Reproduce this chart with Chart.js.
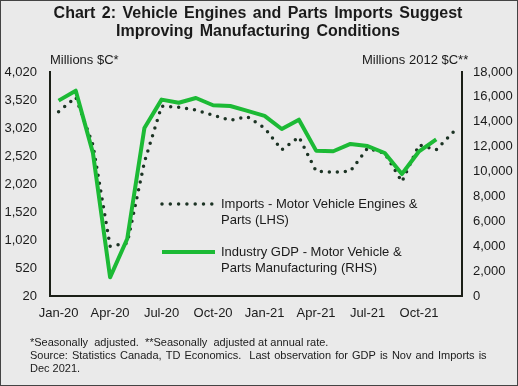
<!DOCTYPE html>
<html lang="en">
<head>
<meta charset="UTF-8">
<title>Vehicle Engines and Parts Imports</title>
<script src="https://cdn.jsdelivr.net/npm/chart.js"></script>
<style>
    body {
        margin: 0;
        padding: 0;
        background-color: #eaeaea;
    }
    #wrap {
        width: 518px;
        height: 386px;
    }
</style>
</head>
<body>
<div id="wrap"><canvas id="importsChart" width="518" height="386"></canvas></div>
<script>
    // data
    const months = ["Jan-20", "Feb-20", "Mar-20", "Apr-20", "May-20", "Jun-20", "Jul-20", "Aug-20", "Sep-20", "Oct-20", "Nov-20", "Dec-20",
        "Jan-21", "Feb-21", "Mar-21", "Apr-21", "May-21", "Jun-21", "Jul-21", "Aug-21", "Sep-21", "Oct-21", "Nov-21", "Dec-21"];
    const importsLHS = [3310, 3570, 2720, 910, 960, 2410, 3410, 3390, 3340, 3250, 3160, 3220,
        3020, 2630, 2860, 2250, 2230, 2250, 2660, 2570, 2060, 2720, 2630, 2950];
    const gdpRHS = [15700, 16500, 11500, 1500, 4600, 13500, 15780, 15530, 15910, 15330, 15270, 14870,
        14470, 13420, 14170, 11680, 11630, 12220, 12050, 11490, 9800, 11630, 12590, null];
    const leftTicks = [20, 520, 1020, 1520, 2020, 2520, 3020, 3520, 4020];
    const rightTicks = [0, 2000, 4000, 6000, 8000, 10000, 12000, 14000, 16000, 18000];

    const titleLines = ["Chart 2: Vehicle Engines and Parts Imports Suggest", "Improving Manufacturing Conditions"];
    const footLines = ["*Seasonally  adjusted.  **Seasonally  adjusted at annual rate.",
        "Source: Statistics Canada, TD Economics.  Last observation for GDP is Nov and Imports is",
        "Dec 2021."];
    const legendLines = [["Imports - Motor Vehicle Engines &", "Parts (LHS)"],
        ["Industry GDP - Motor Vehicle &", "Parts Manufacturing (RHS)"]];

    const FONT = "'Liberation Sans', Arial, sans-serif";
    const DOT_COLOR = "#1c3324";
    const GREEN = "#1cba35";
    const AXIS_COLOR = "#1b1f17";
    const TEXT_COLOR = "#1a1a1a";

    const decorations = {
        id: "decorations",
        beforeDraw(chart) {
            const c = chart.ctx;
            c.save();
            c.fillStyle = "#eaeaea";
            c.fillRect(0, 0, chart.width, chart.height);
            c.restore();
        },
        afterDraw(chart) {
            const c = chart.ctx;
            c.save();
            c.fillStyle = TEXT_COLOR;
            c.textBaseline = "middle";

            // title
            c.font = "bold 16px " + FONT;
            c.textAlign = "center";
            c.wordSpacing = "2px";
            c.fillText(titleLines[0], 258, 14);
            c.fillText(titleLines[1], 258, 32);
            c.wordSpacing = "0px";

            // axis titles
            c.font = "13px " + FONT;
            c.textAlign = "left";
            c.fillText("Millions $C*", 50, 60);
            c.fillText("Millions 2012 $C**", 362, 60);

            // legend inside the plot
            c.beginPath();
            c.setLineDash([0, 8.3]);
            c.lineCap = "round";
            c.lineWidth = 3.5;
            c.strokeStyle = DOT_COLOR;
            c.moveTo(162, 204);
            c.lineTo(213, 204);
            c.stroke();
            c.beginPath();
            c.setLineDash([]);
            c.lineCap = "butt";
            c.lineWidth = 4;
            c.strokeStyle = GREEN;
            c.moveTo(162, 252);
            c.lineTo(215, 252);
            c.stroke();
            c.fillText(legendLines[0][0], 221, 204);
            c.fillText(legendLines[0][1], 221, 220);
            c.fillText(legendLines[1][0], 221, 252);
            c.fillText(legendLines[1][1], 221, 268);

            // footnotes (second line is justified in the original)
            c.font = "11px " + FONT;
            footLines.forEach((line, i) => {
                c.wordSpacing = i === 1 ? "1px" : "0px";
                c.fillText(line, 30, 343 + i * 13);
            });
            c.wordSpacing = "0px";

            // frame
            c.strokeStyle = "#444";
            c.lineWidth = 1;
            c.strokeRect(0.5, 0.5, chart.width - 1, chart.height - 1);
            c.restore();
        }
    };

    const ctx = document.getElementById("importsChart").getContext("2d");
    const myChart = new Chart(ctx, {
        type: "line",
        data: {
            labels: months,
            datasets: [{
                label: "Imports - Motor Vehicle Engines & Parts (LHS)",
                data: importsLHS,
                yAxisID: "y",
                borderColor: DOT_COLOR,
                borderWidth: 3.5,
                borderDash: [0, 8],
                borderCapStyle: "round",
                pointRadius: 0,
                tension: 0,
                order: 1
            }, {
                label: "Industry GDP - Motor Vehicle & Parts Manufacturing (RHS)",
                data: gdpRHS,
                yAxisID: "y1",
                borderColor: GREEN,
                borderWidth: 4,
                borderJoinStyle: "round",
                pointRadius: 0,
                tension: 0,
                order: 0
            }]
        },
        options: {
            responsive: false,
            animation: false,
            layout: { padding: { top: 72, left: 0, right: 0, bottom: 0 } },
            plugins: {
                legend: { display: false },
                title: { display: false },
                tooltip: { enabled: false }
            },
            scales: {
                x: {
                    offset: true,
                    grid: { display: false, drawTicks: false },
                    border: { display: true, color: AXIS_COLOR, width: 2 },
                    afterFit(scale) { scale.height = 90; },
                    ticks: {
                        autoSkip: false,
                        maxRotation: 0,
                        padding: 10,
                        color: TEXT_COLOR,
                        font: { family: FONT, size: 13 },
                        callback: function (value, index) {
                            return index % 3 === 0 ? months[index] : "";
                        }
                    }
                },
                y: {
                    position: "left",
                    min: 20,
                    max: 4020,
                    grid: { display: false, drawTicks: false },
                    border: { display: true, color: AXIS_COLOR, width: 2 },
                    afterFit(scale) { scale.width = 50; },
                    afterBuildTicks(scale) { scale.ticks = leftTicks.map(v => ({ value: v })); },
                    ticks: {
                        padding: 13,
                        color: TEXT_COLOR,
                        font: { family: FONT, size: 13 },
                        callback: v => v.toLocaleString("en-US")
                    }
                },
                y1: {
                    position: "right",
                    min: 0,
                    max: 18000,
                    grid: { display: false, drawTicks: false },
                    border: { display: true, color: AXIS_COLOR, width: 2 },
                    afterFit(scale) { scale.width = 56; },
                    afterBuildTicks(scale) { scale.ticks = rightTicks.map(v => ({ value: v })); },
                    ticks: {
                        padding: 11,
                        color: TEXT_COLOR,
                        font: { family: FONT, size: 13 },
                        callback: v => v.toLocaleString("en-US")
                    }
                }
            }
        },
        plugins: [decorations]
    });
</script>
</body>
</html>
